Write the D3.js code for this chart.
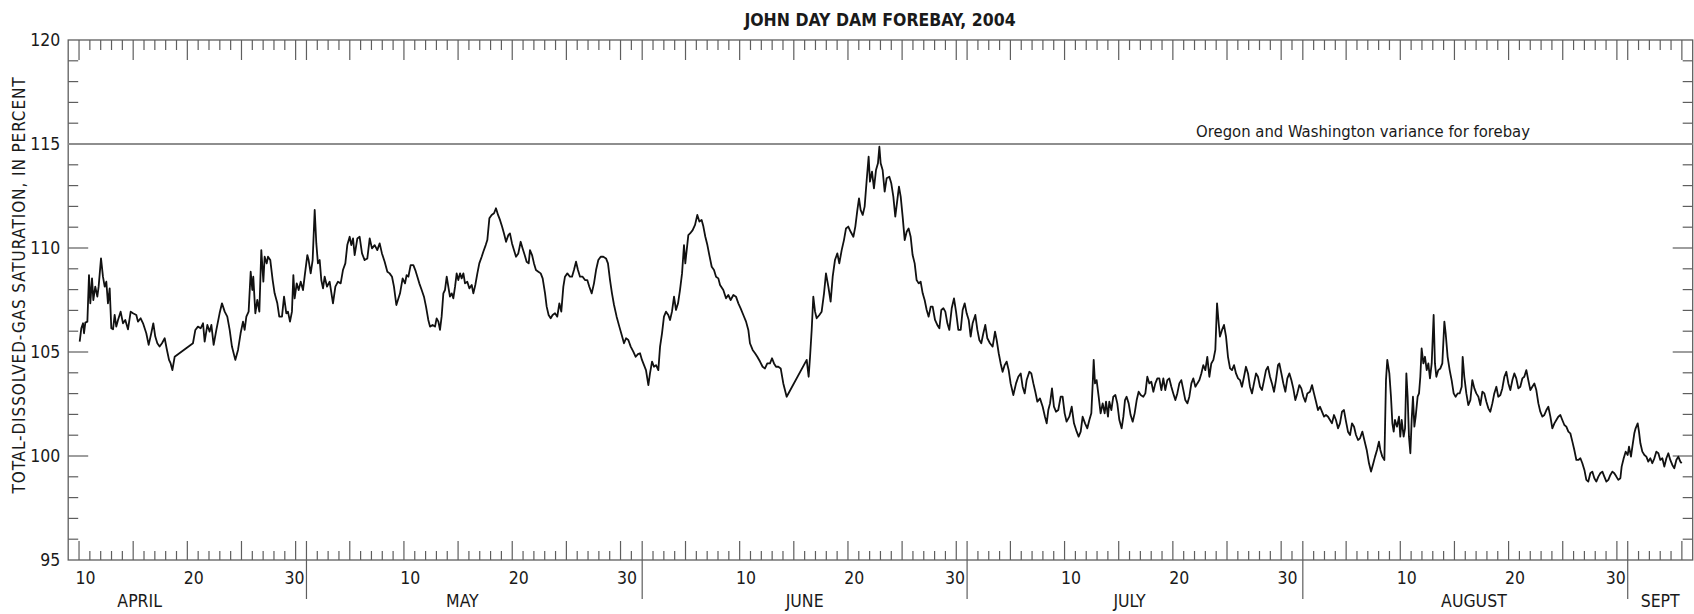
<!DOCTYPE html>
<html><head><meta charset="utf-8">
<script src="https://cdn.jsdelivr.net/npm/d3@7"></script>
<style>
body{margin:0;background:#fff}
text{font-family:"Liberation Sans Narrow","Arial Narrow","DejaVu Sans Condensed",sans-serif;fill:#1a1a1a}
</style></head><body>
<svg id="c" width="1694" height="614"></svg>
<script>
const title = "JOHN DAY DAM FOREBAY, 2004";
const yTitle = "TOTAL-DISSOLVED-GAS SATURATION, IN PERCENT";
const startDate = new Date(2004, 3, 9);      // day 0 = April 9, 2004
const dayDomain = [0, 150];
const yDomain = [95, 120];
const yMajorTicks = [95, 100, 105, 110, 115, 120];
const varianceLevel = 115;
const varianceLabel = "Oregon and Washington variance for forebay";
const monthBoundaryDays = [22, 53, 83, 114, 144];
const monthNames = ["APRIL", "MAY", "JUNE", "JULY", "AUGUST", "SEPT"];
const monthLabelDays = [6.6, 36.4, 68, 98, 129.8, 147];
const labelledDates = [10, 20, 30];

// [day since April 9 00:00, percent saturation]
const series = [
[1.06,105.50],[1.21,106.14],[1.37,106.38],[1.46,105.90],[1.58,106.41],[1.77,106.46],[1.92,108.70],[2.04,107.34],[2.20,108.54],[2.32,107.50],
[2.50,108.14],[2.69,107.66],[2.81,108.14],[3.03,109.50],[3.21,108.62],[3.37,108.14],[3.52,108.38],[3.67,107.34],[3.83,108.06],[3.98,106.14],
[4.14,106.09],[4.29,106.78],[4.44,106.22],[4.60,106.54],[4.84,106.94],[5.06,106.38],[5.27,106.54],[5.52,106.09],[5.77,106.94],[5.98,106.86],
[6.29,106.78],[6.44,106.46],[6.69,106.62],[6.91,106.38],[7.21,105.90],[7.43,105.34],[7.67,105.90],[7.86,106.38],[8.04,105.74],[8.23,105.42],
[8.44,105.26],[8.66,105.42],[8.91,105.66],[9.09,105.17],[9.31,104.62],[9.46,104.45],[9.62,104.13],[9.83,104.77],[11.52,105.42],[11.74,106.06],
[11.98,106.22],[12.23,106.14],[12.45,106.38],[12.60,105.50],[12.85,106.30],[13.06,105.98],[13.22,106.30],[13.43,105.34],[13.68,106.06],[13.98,106.86],
[14.20,107.34],[14.45,106.94],[14.69,106.70],[14.91,106.06],[15.12,105.26],[15.43,104.62],[15.68,105.10],[15.92,105.90],[16.14,106.46],[16.29,106.06],
[16.45,106.70],[16.66,106.94],[16.85,108.86],[17.00,107.98],[17.09,108.62],[17.28,106.86],[17.46,107.50],[17.65,106.94],[17.83,109.90],[18.02,108.38],
[18.14,109.58],[18.33,109.26],[18.45,109.58],[18.66,109.42],[18.88,108.46],[19.06,107.82],[19.31,107.34],[19.49,106.70],[19.74,106.70],[19.93,107.66],
[20.14,106.86],[20.29,106.94],[20.48,106.46],[20.66,106.94],[20.79,108.70],[20.91,107.58],[21.10,108.30],[21.28,107.98],[21.47,108.38],[21.68,107.98],
[21.83,108.62],[22.08,109.66],[22.20,109.42],[22.39,108.78],[22.57,109.42],[22.76,111.83],[22.91,110.22],[23.06,109.26],[23.22,109.42],[23.37,108.46],
[23.53,108.06],[23.68,108.62],[23.90,108.14],[24.14,108.38],[24.45,107.34],[24.67,108.14],[24.91,108.38],[25.16,108.30],[25.37,108.94],[25.59,109.26],
[25.77,110.14],[25.99,110.54],[26.14,110.14],[26.30,110.46],[26.45,109.66],[26.70,110.46],[26.91,110.54],[27.13,109.74],[27.37,109.42],[27.62,109.50],
[27.84,110.46],[28.05,109.98],[28.30,110.14],[28.54,109.90],[28.76,110.22],[28.97,109.74],[29.22,109.34],[29.47,108.86],[29.68,108.78],[29.90,108.62],
[30.08,108.14],[30.30,107.26],[30.64,107.82],[30.88,108.54],[31.10,108.30],[31.25,108.70],[31.41,108.62],[31.62,109.18],[31.87,109.18],[32.05,108.94],
[32.24,108.62],[32.42,108.30],[32.64,107.98],[32.85,107.66],[33.04,107.18],[33.25,106.54],[33.41,106.22],[33.65,106.30],[33.87,106.22],[34.02,106.62],
[34.18,106.46],[34.33,106.06],[34.48,106.70],[34.64,107.82],[34.79,107.98],[34.95,108.62],[35.10,108.14],[35.25,107.66],[35.41,107.82],[35.56,107.58],
[35.72,108.14],[35.87,108.78],[36.02,108.46],[36.18,108.78],[36.33,108.54],[36.49,108.78],[36.64,108.30],[36.85,108.38],[37.04,108.06],[37.26,108.22],
[37.41,107.82],[37.59,108.22],[37.78,108.78],[37.96,109.26],[38.18,109.58],[38.33,109.82],[38.55,110.14],[38.70,110.38],[38.89,111.43],[39.10,111.59],
[39.32,111.67],[39.50,111.91],[39.69,111.59],[39.87,111.35],[40.06,111.03],[40.24,110.70],[40.43,110.30],[40.64,110.62],[40.79,110.70],[40.98,110.22],
[41.16,109.90],[41.35,109.58],[41.56,109.74],[41.78,110.30],[41.96,109.98],[42.15,109.66],[42.33,109.34],[42.52,109.26],[42.64,109.90],[42.83,109.66],
[43.01,109.26],[43.19,108.94],[43.41,108.86],[43.63,108.78],[43.81,108.54],[44.03,107.82],[44.18,107.18],[44.36,106.78],[44.55,106.62],[44.73,106.78],
[44.95,106.86],[45.16,106.70],[45.35,107.34],[45.53,106.94],[45.72,108.14],[45.87,108.62],[46.09,108.78],[46.33,108.62],[46.52,108.62],[46.70,108.94],
[46.89,109.34],[47.07,108.94],[47.26,108.62],[47.50,108.62],[47.72,108.46],[47.93,108.46],[48.12,108.14],[48.34,107.82],[48.55,108.30],[48.74,108.94],
[48.95,109.42],[49.17,109.58],[49.41,109.58],[49.66,109.50],[49.84,109.26],[50.03,108.46],[50.21,107.82],[50.40,107.26],[50.64,106.70],[50.89,106.22],
[51.11,105.82],[51.32,105.42],[51.51,105.66],[51.72,105.58],[51.94,105.26],[52.18,105.02],[52.40,104.77],[52.61,104.90],[52.80,104.94],[52.98,104.62],
[53.17,104.37],[53.35,104.13],[53.57,103.41],[53.72,103.97],[53.91,104.54],[54.09,104.29],[54.28,104.37],[54.49,104.13],[54.65,105.26],[54.83,105.90],
[55.01,106.70],[55.20,106.94],[55.41,106.78],[55.57,106.54],[55.75,106.94],[55.94,107.66],[56.12,107.02],[56.31,107.34],[56.49,107.98],[56.68,108.78],
[56.86,110.14],[56.98,109.26],[57.11,109.90],[57.26,110.62],[57.42,110.70],[57.66,110.86],[57.88,111.11],[58.09,111.59],[58.28,111.27],[58.49,111.35],
[58.65,111.03],[58.83,110.54],[59.02,110.14],[59.20,109.66],[59.42,109.10],[59.63,108.94],[59.82,108.62],[60.03,108.54],[60.19,108.22],[60.49,107.98],
[60.74,107.58],[60.95,107.74],[61.17,107.50],[61.42,107.74],[61.66,107.66],[61.88,107.34],[62.09,107.10],[62.34,106.78],[62.59,106.46],[62.80,106.06],
[62.95,105.42],[63.20,105.10],[63.42,104.94],[63.63,104.77],[63.88,104.54],[64.12,104.29],[64.34,104.21],[64.55,104.45],[64.80,104.45],[64.99,104.70],
[65.17,104.45],[65.36,104.29],[65.57,104.29],[65.79,104.21],[66.03,103.49],[66.34,102.85],[68.19,104.62],[68.37,103.81],[68.50,104.77],[68.65,106.06],
[68.80,107.66],[68.96,106.94],[69.11,106.62],[69.36,106.78],[69.57,106.94],[69.79,107.82],[69.97,108.78],[70.19,108.14],[70.40,107.42],[70.59,108.62],
[70.80,109.42],[71.02,109.74],[71.20,109.26],[71.42,109.90],[71.63,110.38],[71.82,110.94],[72.03,111.03],[72.25,110.78],[72.50,110.54],[72.68,111.03],
[72.87,111.83],[73.02,112.39],[73.17,111.83],[73.36,111.59],[73.54,111.99],[73.73,113.27],[73.91,114.39],[74.03,113.19],[74.22,113.67],[74.40,112.87],
[74.59,113.75],[74.77,114.07],[74.90,114.87],[75.02,114.07],[75.20,113.75],[75.39,112.71],[75.57,113.35],[75.82,113.43],[76.00,113.11],[76.19,112.47],
[76.37,111.51],[76.56,112.31],[76.71,112.95],[76.87,112.47],[77.05,111.51],[77.24,110.38],[77.42,110.78],[77.60,110.94],[77.79,110.54],[77.97,109.66],
[78.16,109.26],[78.34,108.46],[78.53,108.30],[78.71,108.38],[78.90,107.82],[79.08,107.50],[79.27,107.02],[79.45,106.70],[79.64,107.18],[79.82,107.18],
[80.04,106.54],[80.25,106.30],[80.44,106.14],[80.62,107.02],[80.81,107.10],[80.99,106.94],[81.18,106.38],[81.36,106.06],[81.58,107.10],[81.79,107.58],
[81.98,106.94],[82.19,106.06],[82.41,106.06],[82.59,107.02],[82.78,107.34],[82.96,106.86],[83.15,106.54],[83.33,105.74],[83.51,106.38],[83.76,106.78],
[83.95,106.06],[84.13,105.58],[84.31,105.42],[84.50,105.90],[84.68,106.30],[84.87,105.66],[85.11,105.42],[85.36,105.26],[85.58,105.98],[85.73,105.58],
[85.92,104.94],[86.10,104.45],[86.28,104.05],[86.47,104.37],[86.65,104.54],[86.84,104.13],[87.02,103.49],[87.27,102.93],[87.52,103.49],[87.73,103.81],
[87.95,103.97],[88.13,103.33],[88.32,103.01],[88.50,103.65],[88.75,104.05],[88.93,103.97],[89.12,103.49],[89.30,103.09],[89.49,102.61],[89.73,102.77],
[89.98,102.37],[90.19,101.89],[90.35,101.57],[90.50,102.21],[90.66,102.53],[90.84,103.25],[91.02,102.37],[91.21,102.13],[91.42,102.21],[91.64,102.85],
[91.82,102.85],[92.01,102.05],[92.19,101.65],[92.44,101.89],[92.66,102.37],[92.87,101.57],[93.12,101.17],[93.30,100.93],[93.49,101.17],[93.67,101.89],
[93.89,101.57],[94.10,101.33],[94.29,101.73],[94.47,102.05],[94.60,103.49],[94.69,104.62],[94.81,103.49],[94.96,103.65],[95.15,102.85],[95.33,102.05],
[95.52,102.53],[95.70,102.05],[95.83,102.61],[96.01,101.89],[96.13,102.61],[96.32,102.21],[96.50,102.85],[96.69,102.93],[96.87,102.53],[97.06,101.73],
[97.27,101.33],[97.43,101.89],[97.58,102.69],[97.73,102.85],[97.92,102.53],[98.10,101.97],[98.29,101.65],[98.47,102.05],[98.66,102.69],[98.84,103.09],
[99.03,102.93],[99.27,102.85],[99.46,103.01],[99.64,103.81],[99.83,103.49],[100.01,103.57],[100.20,103.09],[100.38,103.49],[100.57,103.73],[100.75,103.73],
[100.94,103.17],[101.12,103.73],[101.30,103.17],[101.49,103.65],[101.67,103.73],[101.86,103.33],[102.04,103.01],[102.23,102.69],[102.41,103.01],[102.60,103.49],
[102.78,103.65],[102.97,103.17],[103.15,102.69],[103.34,102.53],[103.52,102.85],[103.71,103.49],[103.89,103.73],[104.08,103.33],[104.26,103.49],[104.45,103.65],
[104.63,103.97],[104.81,104.37],[105.00,104.13],[105.18,104.77],[105.37,103.81],[105.55,104.45],[105.74,104.62],[105.92,105.10],[106.08,107.34],[106.23,106.38],
[106.35,105.74],[106.54,106.06],[106.72,106.30],[106.91,105.74],[107.09,104.77],[107.28,104.21],[107.46,104.13],[107.65,104.37],[107.83,103.97],[108.02,103.73],
[108.20,103.65],[108.38,103.33],[108.57,103.81],[108.75,104.29],[108.94,103.97],[109.12,103.33],[109.31,103.01],[109.49,103.49],[109.68,103.97],[109.86,103.81],
[110.05,103.33],[110.23,103.17],[110.42,103.65],[110.60,104.13],[110.78,104.29],[110.97,103.81],[111.15,103.49],[111.34,103.09],[111.52,103.65],[111.71,104.37],
[111.83,104.45],[112.02,103.97],[112.20,103.49],[112.39,103.09],[112.57,103.73],[112.76,103.97],[112.94,103.65],[113.12,103.25],[113.31,102.69],[113.49,103.01],
[113.68,103.41],[113.86,103.25],[114.05,102.85],[114.23,102.61],[114.42,103.01],[114.66,103.09],[114.85,103.41],[115.03,103.01],[115.22,102.61],[115.40,102.21],
[115.59,102.37],[115.77,102.13],[115.96,101.89],[116.14,101.97],[116.33,101.89],[116.51,101.73],[116.69,101.57],[116.88,101.97],[117.06,101.73],[117.25,101.33],
[117.43,101.57],[117.62,102.13],[117.80,102.21],[117.99,101.65],[118.17,101.17],[118.36,101.01],[118.54,101.57],[118.73,101.41],[118.91,101.01],[119.10,100.77],
[119.28,100.85],[119.50,101.17],[119.68,100.77],[119.90,100.29],[120.11,99.65],[120.30,99.25],[120.51,99.65],[120.67,99.97],[120.85,100.29],[121.03,100.69],
[121.16,100.29],[121.34,99.97],[121.53,99.81],[121.68,103.65],[121.80,104.62],[121.99,103.97],[122.14,102.85],[122.27,101.57],[122.39,101.17],[122.51,101.73],
[122.70,101.41],[122.88,101.89],[123.00,100.93],[123.13,101.73],[123.31,100.93],[123.44,101.33],[123.56,103.97],[123.68,102.85],[123.80,100.93],[123.93,100.13],
[124.05,101.73],[124.17,102.85],[124.30,101.41],[124.42,101.89],[124.60,102.85],[124.73,103.01],[124.85,103.81],[124.97,105.17],[125.13,104.45],[125.28,104.77],
[125.44,104.13],[125.59,104.45],[125.74,103.73],[125.90,104.45],[126.08,106.78],[126.20,104.45],[126.33,103.81],[126.51,104.13],[126.70,104.21],[126.88,104.45],
[127.07,106.46],[127.19,105.90],[127.37,104.77],[127.56,104.13],[127.74,103.65],[127.93,103.01],[128.11,102.85],[128.30,103.01],[128.48,103.01],[128.67,103.33],
[128.76,104.77],[128.91,103.81],[129.10,103.01],[129.28,102.45],[129.47,102.69],[129.65,103.65],[129.84,103.25],[130.02,103.01],[130.21,102.85],[130.39,102.45],
[130.58,103.09],[130.76,103.01],[130.95,102.61],[131.13,102.29],[131.31,102.13],[131.50,102.53],[131.68,103.01],[131.87,103.33],[132.05,102.85],[132.24,102.93],
[132.42,103.25],[132.61,103.81],[132.79,104.05],[132.98,103.49],[133.16,103.17],[133.35,103.65],[133.53,103.97],[133.71,103.73],[133.90,103.25],[134.08,103.33],
[134.27,103.73],[134.45,103.81],[134.64,104.13],[134.82,103.65],[135.01,103.17],[135.19,103.33],[135.38,103.49],[135.56,103.17],[135.75,102.53],[135.93,102.13],
[136.12,101.89],[136.30,101.97],[136.49,102.21],[136.67,102.37],[136.86,101.89],[137.04,101.33],[137.23,101.57],[137.41,101.73],[137.59,101.89],[137.78,101.97],
[137.96,101.73],[138.15,101.49],[138.33,101.41],[138.52,101.17],[138.70,101.09],[138.89,100.69],[139.07,100.29],[139.26,99.81],[139.44,99.81],[139.63,99.89],
[139.81,99.65],[140.00,99.33],[140.18,98.85],[140.36,98.77],[140.55,99.17],[140.73,99.25],[140.92,98.93],[141.10,98.77],[141.29,99.01],[141.47,99.17],
[141.66,99.25],[141.84,99.01],[142.03,98.77],[142.21,98.85],[142.40,99.09],[142.58,99.25],[142.76,99.17],[142.95,99.01],[143.13,98.85],[143.32,98.93],
[143.44,99.49],[143.63,99.89],[143.81,100.21],[144.00,100.05],[144.12,100.45],[144.30,99.97],[144.43,100.45],[144.61,101.09],[144.73,101.33],[144.92,101.57],
[145.04,101.17],[145.17,100.61],[145.35,100.21],[145.54,100.05],[145.72,99.97],[145.90,99.73],[146.09,99.89],[146.27,99.65],[146.46,99.89],[146.64,100.21],
[146.83,100.13],[147.01,99.81],[147.20,99.89],[147.38,99.49],[147.57,99.89],[147.75,100.13],[147.93,99.81],[148.12,99.57],[148.30,99.41],[148.49,99.81],
[148.67,99.97],[148.86,99.73],[148.98,99.65]
];

const svg = d3.select("#c");
const x = d3.scaleLinear().domain(dayDomain).range([68.2, 1692.7]);
const y = d3.scaleLinear().domain(yDomain).range([560, 40]);
const axisColor = "#5e5e5e";
const dateOf = d => d3.timeDay.offset(startDate, d);

// frame
svg.append("rect").attr("x", x(dayDomain[0])).attr("y", y(yDomain[1]))
  .attr("width", x(dayDomain[1]) - x(dayDomain[0])).attr("height", y(yDomain[0]) - y(yDomain[1]))
  .attr("fill", "none").attr("stroke", axisColor).attr("stroke-width", 1.3);

// x ticks (top and bottom)
const dayTicks = d3.range(dayDomain[0] + 1, dayDomain[1]);
const g = svg.append("g").attr("stroke", axisColor).attr("stroke-width", 1.2);
dayTicks.forEach(d => {
  if (monthBoundaryDays.includes(d)) return;
  const tall = dateOf(d).getDate() % 5 === 0;
  g.append("line").attr("x1", x(d)).attr("x2", x(d))
    .attr("y1", y(yDomain[0])).attr("y2", y(yDomain[0]) - (tall ? 19 : 9));
  g.append("line").attr("x1", x(d)).attr("x2", x(d))
    .attr("y1", y(yDomain[1])).attr("y2", y(yDomain[1]) + (tall ? 20 : 10));
});
monthBoundaryDays.forEach(d => {
  g.append("line").attr("x1", x(d)).attr("x2", x(d))
    .attr("y1", y(yDomain[0]) - 19).attr("y2", y(yDomain[0]) + 39);
  g.append("line").attr("x1", x(d)).attr("x2", x(d))
    .attr("y1", y(yDomain[1])).attr("y2", y(yDomain[1]) + 20);
});

// y ticks (left and right)
d3.range(yDomain[0] + 1, yDomain[1]).forEach(v => {
  const major = yMajorTicks.includes(v);
  const len = major ? 20 : 10;
  g.append("line").attr("x1", x(dayDomain[0])).attr("x2", x(dayDomain[0]) + len).attr("y1", y(v)).attr("y2", y(v));
  g.append("line").attr("x1", x(dayDomain[1])).attr("x2", x(dayDomain[1]) - len).attr("y1", y(v)).attr("y2", y(v));
});

// y tick labels
svg.append("g").selectAll("text").data(yMajorTicks).join("text")
  .attr("x", x(dayDomain[0]) - 8).attr("y", d => y(d)).attr("dy", "0.36em")
  .attr("text-anchor", "end").style("font-size", "17.5px").text(d => d);

// day labels
const dayLabelG = svg.append("g").style("font-size", "17.5px");
d3.range(dayDomain[0], dayDomain[1]).forEach(d => {
  const dt = dateOf(d).getDate();
  if (!labelledDates.includes(dt)) return;
  const nextIsBoundary = monthBoundaryDays.includes(d + 1);
  dayLabelG.append("text")
    .attr("x", nextIsBoundary ? x(d + 1) - 2 : x(d + 0.5) + 1)
    .attr("y", 584)
    .attr("text-anchor", nextIsBoundary ? "end" : "middle")
    .text(dt);
});

// month labels
svg.append("g").selectAll("text").data(monthNames).join("text")
  .attr("x", (d, i) => x(monthLabelDays[i])).attr("y", 607)
  .attr("text-anchor", "middle").style("font-size", "17.5px").text(d => d);

// variance line
svg.append("line").attr("x1", x(dayDomain[0])).attr("x2", x(dayDomain[1]))
  .attr("y1", y(varianceLevel)).attr("y2", y(varianceLevel))
  .attr("stroke", "#8e8e8e").attr("stroke-width", 1.8);
svg.append("text").attr("x", 1530).attr("y", y(varianceLevel) - 7.5)
  .attr("text-anchor", "end").style("font-size", "16.5px").text(varianceLabel);

// data line
svg.append("path").datum(series)
  .attr("fill", "none").attr("stroke", "#111").attr("stroke-width", 1.8)
  .attr("stroke-linejoin", "round")
  .attr("d", d3.line().x(d => x(d[0])).y(d => y(d[1])));

// title
svg.append("text").attr("x", 880).attr("y", 26).attr("text-anchor", "middle")
  .style("font-size", "17.5px").style("font-weight", "bold").text(title);

// y axis title
svg.append("text").attr("transform", `translate(25,${(y(yDomain[0]) + y(yDomain[1])) / 2 - 15}) rotate(-90)`)
  .attr("text-anchor", "middle").style("font-size", "17px").style("letter-spacing", "0.9px").text(yTitle);
</script>
</body></html>
